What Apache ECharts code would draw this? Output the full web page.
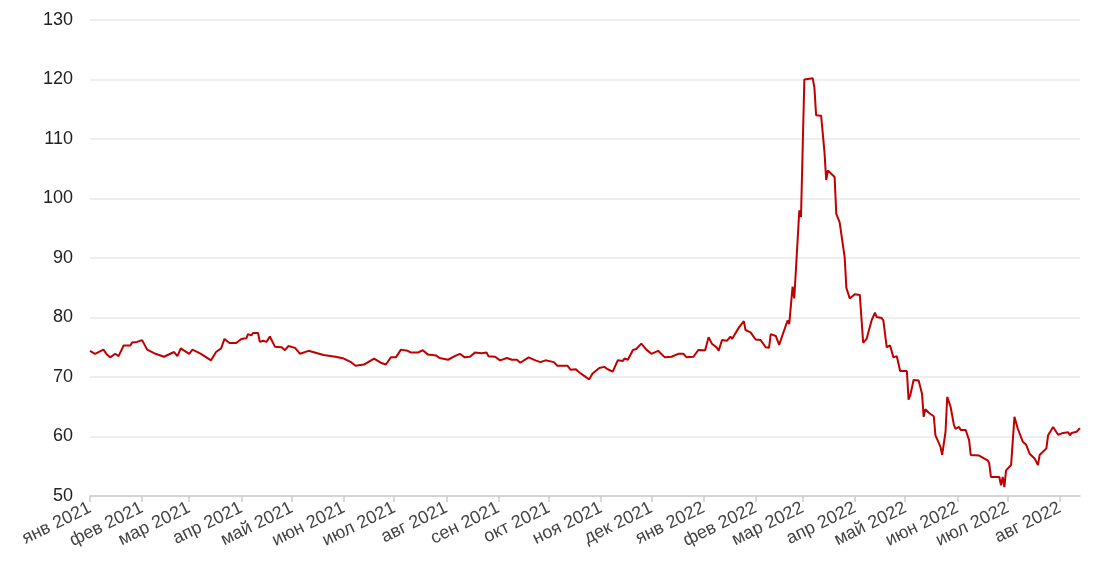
<!DOCTYPE html>
<html>
<head>
<meta charset="utf-8">
<script src="https://cdn.jsdelivr.net/npm/echarts@6/dist/echarts.min.js"></script>
<style>
html,body{margin:0;padding:0;background:#fff;}
#chart{width:1100px;height:584px;}
</style>
</head>
<body>
<div id="chart"></div>
<script>
// Month tick positions and labels
const monthStarts = ['2021-01-01','2021-02-01','2021-03-01','2021-04-01','2021-05-01','2021-06-01','2021-07-01','2021-08-01','2021-09-01','2021-10-01','2021-11-01','2021-12-01','2022-01-01','2022-02-01','2022-03-01','2022-04-01','2022-05-01','2022-06-01','2022-07-01','2022-08-01'];
const tickLabels = ['янв 2021','фев 2021','мар 2021','апр 2021','май 2021','июн 2021','июл 2021','авг 2021','сен 2021','окт 2021','ноя 2021','дек 2021','янв 2022','фев 2022','мар 2022','апр 2022','май 2022','июн 2022','июл 2022','авг 2022'];

// Series: dates and values
const dates = [
'2021-01-01','2021-01-04','2021-01-09','2021-01-11','2021-01-13','2021-01-16','2021-01-18','2021-01-21','2021-01-25','2021-01-26','2021-01-29',
'2021-02-01','2021-02-04','2021-02-09','2021-02-14','2021-02-20','2021-02-22','2021-02-24',
'2021-03-01','2021-03-03','2021-03-08','2021-03-14','2021-03-17','2021-03-20','2021-03-22','2021-03-25','2021-03-29',
'2021-04-01','2021-04-04','2021-04-05','2021-04-07','2021-04-08','2021-04-11','2021-04-12','2021-04-14','2021-04-16','2021-04-18','2021-04-21','2021-04-25','2021-04-27','2021-04-29',
'2021-05-03','2021-05-06','2021-05-11','2021-05-12','2021-05-20','2021-05-27',
'2021-06-01','2021-06-05','2021-06-08','2021-06-13','2021-06-15','2021-06-19','2021-06-23','2021-06-26','2021-06-29',
'2021-07-02','2021-07-05','2021-07-09','2021-07-11','2021-07-15','2021-07-18','2021-07-21','2021-07-26','2021-07-28',
'2021-08-02','2021-08-06','2021-08-09','2021-08-12','2021-08-15','2021-08-18','2021-08-22','2021-08-25','2021-08-26','2021-08-30',
'2021-09-02','2021-09-06','2021-09-09','2021-09-12','2021-09-14','2021-09-19','2021-09-23','2021-09-26','2021-09-29',
'2021-10-04','2021-10-06','2021-10-12','2021-10-14','2021-10-17','2021-10-19','2021-10-22','2021-10-25','2021-10-27','2021-10-31',
'2021-11-03','2021-11-05','2021-11-08','2021-11-11','2021-11-14','2021-11-15','2021-11-17','2021-11-20','2021-11-22','2021-11-23','2021-11-25','2021-11-28',
'2021-12-01','2021-12-05','2021-12-09','2021-12-13','2021-12-17','2021-12-20','2021-12-22','2021-12-26','2021-12-29',
'2022-01-02','2022-01-04','2022-01-06','2022-01-09','2022-01-10','2022-01-12','2022-01-15','2022-01-17','2022-01-18','2022-01-22','2022-01-25','2022-01-26','2022-01-29','2022-01-30',
'2022-02-01','2022-02-04','2022-02-07','2022-02-09','2022-02-10','2022-02-13','2022-02-15','2022-02-16','2022-02-20','2022-02-21','2022-02-23','2022-02-24','2022-02-27','2022-02-28',
'2022-03-02','2022-03-07','2022-03-08','2022-03-09','2022-03-12','2022-03-14','2022-03-15','2022-03-16','2022-03-20','2022-03-21','2022-03-23','2022-03-26','2022-03-27','2022-03-29',
'2022-04-01','2022-04-04','2022-04-06','2022-04-08','2022-04-11','2022-04-13','2022-04-14','2022-04-17','2022-04-18','2022-04-20','2022-04-22','2022-04-24','2022-04-26','2022-04-28',
'2022-05-02','2022-05-03','2022-05-04','2022-05-06','2022-05-09','2022-05-11','2022-05-12','2022-05-13','2022-05-15','2022-05-18','2022-05-19','2022-05-22','2022-05-23','2022-05-25','2022-05-26','2022-05-28','2022-05-30','2022-05-31',
'2022-06-02','2022-06-03','2022-06-06','2022-06-08','2022-06-09','2022-06-14','2022-06-15','2022-06-19','2022-06-20','2022-06-21','2022-06-26','2022-06-27','2022-06-28','2022-06-29','2022-06-30',
'2022-07-03','2022-07-05','2022-07-07','2022-07-10','2022-07-12','2022-07-14','2022-07-17','2022-07-19','2022-07-20','2022-07-24','2022-07-25','2022-07-26','2022-07-28','2022-07-31',
'2022-08-03','2022-08-06','2022-08-07','2022-08-08','2022-08-11','2022-08-13'
];
const rates = [
74.4,73.9,74.6,73.8,73.3,73.9,73.5,75.3,75.3,75.8,75.9,
76.2,74.6,73.9,73.4,74.2,73.5,74.8,
73.9,74.6,73.9,72.8,74.2,74.8,76.4,75.7,75.7,
76.4,76.5,77.2,77.0,77.4,77.4,75.9,76.1,75.9,76.8,75.1,75.0,74.5,75.2,
74.9,73.9,74.4,74.1,73.7,73.4,
73.1,72.55,71.9,72.1,72.4,73.1,72.4,72.1,73.3,
73.3,74.6,74.4,74.1,74.1,74.5,73.8,73.6,73.2,
72.9,73.5,73.9,73.3,73.4,74.1,74.0,74.1,73.5,73.4,
72.8,73.2,72.9,72.9,72.4,73.3,72.8,72.5,72.8,
72.5,71.9,71.9,71.2,71.3,70.8,70.2,69.6,70.6,71.5,
71.7,71.3,70.9,72.8,72.7,73.1,72.9,74.55,74.7,74.9,75.6,74.6,
73.9,74.4,73.3,73.4,73.9,73.9,73.3,73.4,74.55,
74.5,76.7,75.6,74.9,74.4,76.2,76.1,76.8,76.4,78.3,79.4,77.9,77.5,77.3,
76.3,76.2,75.0,74.9,77.2,76.9,75.4,75.6,79.5,78.9,85.2,83.2,98.0,96.9,
120.0,120.2,118.6,114.0,113.9,107.7,103.1,104.7,103.6,97.4,96.0,90.1,85.0,83.2,
83.9,83.8,75.75,76.4,79.5,80.8,80.1,79.9,79.5,75.0,75.3,73.3,73.5,71.0,
71.0,66.2,66.9,69.5,69.4,67.2,63.3,64.6,64.0,63.4,60.2,58.25,56.9,60.8,66.65,65.0,61.9,61.3,
61.6,61.1,61.1,59.4,56.9,56.8,57.0,56.0,55.5,53.2,53.2,51.8,53.2,51.5,54.3,
55.2,63.3,61.3,59.1,58.6,57.1,56.3,55.2,56.9,58.0,60.2,60.0,61.6,60.3,
60.6,60.7,60.2,60.6,60.8,61.4
];

function toTs(s){const p=s.split('-');return Date.UTC(+p[0],+p[1]-1,+p[2]);}
const tickTs = monthStarts.map(toTs);
const seriesData = dates.map((d,i)=>[toTs(d), rates[i]]);

const chart = echarts.init(document.getElementById('chart'), null, {renderer:'canvas'});
chart.setOption({
  animation:false,
  backgroundColor:'#fff',
  grid:{left:90,right:20,top:20,bottom:88,containLabel:false},
  xAxis:{
    type:'value',
    min:toTs(dates[0]),
    max:toTs(dates[dates.length-1]),
    axisLine:{show:true,lineStyle:{color:'#cccccc',width:1.5}},
    axisTick:{show:true,length:6,lineStyle:{color:'#cccccc',width:1.5},customValues:tickTs},
    splitLine:{show:false},
    axisLabel:{
      customValues:tickTs,
      rotate:26,
      margin:11,
      color:'#444',
      fontSize:18,
      fontFamily:'Liberation Sans, Arial, sans-serif',
      hideOverlap:false,
      showMinLabel:true,
      showMaxLabel:true,
      formatter:function(v){const i=tickTs.indexOf(v);return i>=0?tickLabels[i]:'';}
    }
  },
  yAxis:{
    type:'value',
    min:50,max:130,interval:10,
    axisLine:{show:false},
    axisTick:{show:false},
    splitLine:{show:true,lineStyle:{color:'#eeeeee',width:2}},
    axisLabel:{color:'#222',fontSize:18,margin:17,fontFamily:'Liberation Sans, Arial, sans-serif'}
  },
  series:[{
    type:'line',
    data:seriesData,
    showSymbol:false,
    symbol:'none',
    lineStyle:{color:'#c00000',width:2},
    itemStyle:{color:'#c00000'}
  }]
});
</script>
</body>
</html>
